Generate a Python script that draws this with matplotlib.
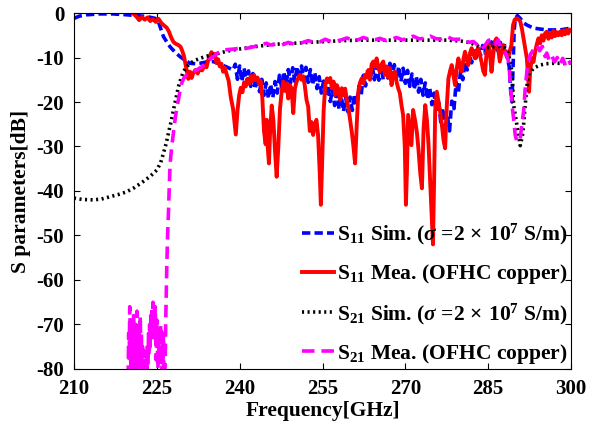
import matplotlib
matplotlib.use('Agg')
import matplotlib.pyplot as plt

plt.rcParams['font.family'] = ['Liberation Serif', 'DejaVu Serif']
plt.rcParams['font.weight'] = 'bold'
plt.rcParams['mathtext.fontset'] = 'custom'
plt.rcParams['mathtext.rm'] = 'Liberation Serif:bold'
plt.rcParams['mathtext.it'] = 'Liberation Serif:italic'
plt.rcParams['mathtext.bf'] = 'Liberation Serif:bold'
plt.rcParams['lines.scale_dashes'] = False
plt.rcParams['axes.unicode_minus'] = False

# S11 simulation (sigma = 2e7 S/m)
s11_sim_f = [210.0, 211.0, 212.3, 214.7, 217.0, 219.5, 221.5, 223.2, 224.7, 225.3,
             225.6, 226.2, 226.8, 227.4, 228.3, 229.2, 230.1, 231.0, 232.0, 232.8,
             234.0, 235.2, 236.4, 237.6, 238.8,
             239.2, 239.6, 240.0, 240.4, 240.8, 241.2, 241.6, 242.0, 242.4, 242.8,
             243.2, 243.6, 244.0, 244.4, 244.8, 245.2, 245.6, 246.0, 246.4, 246.8,
             247.2, 247.6, 248.0, 248.4, 248.8, 249.2, 249.6, 250.0, 250.4, 250.8,
             251.2, 251.6, 252.0, 252.4, 252.8, 253.2, 253.6, 254.0, 254.4, 254.8,
             255.2, 255.6, 256.0, 256.4, 256.8, 257.2, 257.6, 258.0, 258.4, 258.8,
             259.2, 259.6, 260.0, 260.4, 260.8, 261.2, 261.6, 262.0, 262.4, 262.8,
             263.2, 263.6, 264.0, 264.4, 264.8, 265.2, 265.6, 266.0, 266.4, 266.8,
             267.2, 267.6, 268.0, 268.4, 268.8, 269.2, 269.6, 270.0, 270.4, 270.8,
             271.2, 271.6, 272.0, 272.4, 272.8, 273.2, 273.6, 274.0, 274.4, 274.8,
             275.2, 275.6, 276.0, 276.4, 276.8, 277.2, 277.6, 278.0, 278.4, 278.8,
             279.2, 279.6, 280.0, 280.4, 280.8, 281.2, 281.6, 282.0, 282.4, 282.8,
             283.2, 283.6, 284.0, 284.4, 284.8, 285.2, 285.6, 286.0, 286.4, 286.8,
             287.2, 287.6, 288.0, 288.4,
             288.8, 289.1, 289.3, 289.5, 289.7, 289.9, 290.3, 290.8, 291.4, 292.0,
             293.2, 294.4, 295.6, 297.0, 298.0, 299.0, 300.0]
s11_sim_db = [-1.2, -0.7, -0.4, -0.2, -0.2, -0.4, -0.6, -0.8, -1.2, -2.0,
              -3.1, -5.3, -6.5, -7.6, -8.8, -9.8, -10.6, -11.3, -11.4, -11.3,
              -11.0, -10.9, -11.5, -12.1, -12.8,
              -11.5, -14.9, -11.9, -15.4, -12.4, -15.9, -13.0, -16.5, -13.6, -17.1,
              -14.2, -17.7, -14.9, -18.5, -15.7, -19.2, -16.0, -19.0, -15.4, -18.0,
              -14.0, -16.7, -13.2, -16.1, -12.7, -15.7, -12.3, -15.4, -12.0, -15.1,
              -11.9, -15.2, -12.2, -15.6, -12.7, -16.2, -13.3, -17.0, -14.3, -18.0,
              -15.3, -18.9, -16.2, -19.9, -17.2, -20.8, -18.0, -21.6, -18.7, -22.1,
              -19.0, -22.2, -18.9, -21.9, -18.2, -20.6, -16.4, -18.4, -14.0, -16.4,
              -12.6, -15.4, -11.9, -15.0, -11.8, -15.1, -12.0, -15.0, -11.6, -14.6,
              -11.3, -14.6, -11.6, -15.0, -12.0, -15.4, -12.4, -15.8, -12.9, -16.5,
              -13.7, -17.2, -14.3, -17.8, -14.9, -18.5, -15.7, -19.4, -16.7, -20.6,
              -18.0, -22.4, -19.5, -24.5, -21.4, -26.4, -23.0, -26.5, -19.8, -21.5,
              -15.6, -17.8, -13.0, -15.0, -10.9, -12.8, -9.4, -11.2, -8.5, -10.1,
              -7.8, -9.6, -7.3, -9.0, -6.8, -8.6, -6.5, -8.5, -6.5, -8.6,
              -6.6, -8.9, -7.3, -9.8,
              -12.0, -18.0, -20.0, -12.0, -4.0, -1.2, -0.6, -1.2, -2.2, -2.7,
              -3.4, -3.6, -3.8, -3.8, -3.8, -3.6, -3.4]

# S11 measured (OFHC copper)
s11_mea_f = [220.7, 221.3, 221.8, 222.3, 222.8, 223.3, 223.8, 224.3, 224.8, 225.3,
             225.8, 226.3, 226.8, 227.2, 227.6, 228.0, 228.4, 228.9, 229.3, 229.6,
             229.9, 230.2, 230.5, 230.7, 231.0, 231.3, 231.6, 232.0, 232.4, 232.8,
             233.2, 233.6, 234.0, 234.3, 234.6, 234.9, 235.2, 235.5, 235.8, 236.1,
             236.4, 236.7, 237.0, 237.3, 237.6, 238.0, 238.4, 238.8, 239.1, 239.3,
             239.6, 239.9, 240.2, 240.5, 240.8, 241.1, 241.4, 241.7, 242.0, 242.3,
             242.6, 242.9, 243.2, 243.5, 243.8, 244.1, 244.4, 244.7, 244.9, 245.1,
             245.3, 245.5, 245.8, 246.1, 246.4, 246.7, 247.0, 247.3, 247.6, 247.9,
             248.2, 248.5, 248.8, 249.1, 249.4, 249.7, 250.0, 250.3, 250.6, 250.9,
             251.2, 251.5, 251.8, 252.1, 252.4, 252.7, 253.0, 253.3, 253.6, 253.9,
             254.2, 254.5, 254.7, 254.9, 255.2, 255.5, 255.8, 256.1, 256.4, 256.7,
             257.0, 257.3, 257.6, 257.9, 258.2, 258.5, 258.8, 259.1, 259.4, 259.7,
             260.0, 260.3, 260.6, 260.9, 261.2, 261.5, 261.8, 262.1, 262.4, 262.7,
             263.0, 263.3, 263.6, 263.9, 264.2, 264.5, 264.8, 265.1, 265.4, 265.7,
             266.0, 266.3, 266.6, 266.9, 267.2, 267.5, 267.8, 268.1, 268.4, 268.7,
             269.0, 269.3, 269.6, 269.9, 270.1, 270.3, 270.5, 270.8, 271.1, 271.4,
             271.8, 272.1, 272.4, 272.7, 273.0, 273.3, 273.6, 273.9, 274.2, 274.5,
             274.8, 275.0, 275.2, 275.4, 275.7, 276.0, 276.3, 276.6, 276.9, 277.2,
             277.5, 277.8, 278.1, 278.4, 278.7, 279.0, 279.3, 279.6, 279.9, 280.2,
             280.5, 280.8, 281.1, 281.4, 281.7, 282.0, 282.3, 282.6, 282.9, 283.2,
             283.5, 283.8, 284.1, 284.4, 284.7, 285.0, 285.3, 285.6, 285.9, 286.2,
             286.5, 286.8, 287.1, 287.4, 287.7, 288.0, 288.3, 288.6, 288.9, 289.2,
             289.5, 289.8, 290.1, 290.4, 290.8, 291.1, 291.4, 291.7, 292.0, 292.2,
             292.4, 292.6, 292.9, 293.2, 293.5, 293.8, 294.1, 294.4, 294.7, 295.0,
             295.3, 295.6, 295.9, 296.2, 296.5, 296.8, 297.1, 297.4, 297.7, 298.0,
             298.3, 298.6, 298.9, 299.2, 299.5, 299.8]
s11_mea_db = [-0.1, -0.8, -1.6, -0.9, -1.5, -1.0, -1.8, -1.4, -2.0, -1.3,
              -2.2, -2.8, -3.3, -4.2, -5.5, -6.5, -6.9, -7.2, -7.6, -8.5,
              -9.6, -11.5, -13.5, -14.8, -13.2, -14.6, -13.5, -12.8, -13.6, -12.4,
              -12.9, -11.8, -12.2, -10.6, -9.6, -8.8, -9.8, -9.2, -11.2, -10.4,
              -12.0, -11.4, -13.2, -12.3, -13.6, -15.2, -19.0, -21.5, -25.0, -27.3,
              -22.0, -18.5, -16.8, -17.8, -15.6, -16.5, -14.8, -15.9, -14.2, -15.3,
              -13.9, -15.1, -14.5, -16.0, -15.2, -19.0, -26.5, -29.5, -24.0, -30.5,
              -33.8, -27.0, -20.8, -24.0, -31.0, -36.8, -30.0, -21.5, -17.8, -15.4,
              -17.5, -15.8, -19.2, -16.2, -17.0, -22.5, -17.0, -15.4, -14.6, -13.9,
              -15.0, -14.2, -16.4, -19.5, -21.0, -26.5, -24.5, -27.4, -25.0, -24.0,
              -27.5, -36.0, -43.1, -35.0, -22.0, -16.2, -14.7, -15.5, -14.6, -16.9,
              -15.4, -18.4, -16.2, -17.2, -19.5, -16.9, -18.5, -17.0, -19.5, -21.4,
              -24.0, -26.7, -30.0, -33.8, -25.0, -17.5, -15.6, -14.7, -15.8, -13.9,
              -14.5, -12.8, -15.0, -11.5, -10.9, -12.0, -10.2, -12.5, -13.2, -11.5,
              -10.9, -13.9, -12.0, -14.5, -12.4, -16.2, -13.5, -13.2, -15.4, -16.9,
              -18.0, -20.7, -23.0, -30.0, -43.1, -35.0, -22.9, -26.3, -29.7, -21.8,
              -24.4, -27.0, -31.0, -36.0, -39.4, -26.0, -20.7, -24.0, -29.7, -38.0,
              -46.0, -52.0, -38.0, -22.0, -17.7, -20.0, -22.2, -25.0, -28.5, -30.4,
              -21.0, -14.7, -13.0, -11.7, -14.0, -16.2, -12.5, -10.2, -12.0, -13.2,
              -10.5, -8.7, -10.5, -11.7, -9.0, -7.9, -9.0, -10.2, -8.4, -7.9,
              -9.5, -11.0, -13.0, -13.9, -9.0, -6.4, -9.0, -13.2, -9.5, -6.4,
              -5.7, -8.0, -10.9, -9.0, -7.2, -8.5, -9.6, -10.2, -8.6, -7.2,
              -2.7, -1.5, -1.2, -1.3, -1.9, -3.5, -5.7, -8.0, -10.2, -14.0,
              -17.7, -13.0, -10.2, -11.0, -8.7, -7.0, -5.7, -6.8, -5.0, -6.2,
              -4.6, -4.2, -5.8, -4.5, -5.5, -4.0, -5.2, -4.3, -5.0, -4.2,
              -5.0, -3.9, -4.8, -3.8, -4.6, -3.8]

# S21 simulation (sigma = 2e7 S/m)
s21_sim_f = [210.0, 211.5, 213.5, 215.0, 216.5, 218.0, 219.5, 221.0, 222.5, 223.8,
             225.0, 225.7, 226.2, 226.7, 227.1, 227.6, 228.0, 228.5, 228.9, 229.4,
             229.8, 230.4, 231.0, 232.0, 232.8, 234.0, 235.2, 237.0, 238.8, 240.5,
             242.5, 244.5, 246.7, 249.7, 252.5, 255.8, 259.0, 261.8, 265.0, 268.0,
             271.4, 274.5, 277.5, 280.0, 281.5, 283.0, 283.5, 284.5, 285.9, 287.0,
             288.0, 288.6, 289.0, 289.3, 289.6, 290.2, 290.8, 291.2, 291.4, 291.7,
             292.0, 292.3, 293.2, 294.4, 295.5, 296.8, 298.0, 299.0, 300.0]
s21_sim_db = [-41.6, -41.9, -42.0, -41.8, -41.3, -40.8, -40.2, -39.2, -37.9, -36.7,
              -35.3, -33.6, -31.5, -29.3, -27.0, -24.3, -21.8, -19.0, -16.6, -14.6,
              -13.2, -12.1, -11.3, -10.6, -10.2, -9.7, -9.4, -8.8, -8.3, -8.0,
              -7.6, -7.3, -7.0, -6.8, -6.6, -6.4, -6.2, -6.1, -6.1, -6.1,
              -6.1, -6.1, -6.1, -6.3, -6.6, -7.3, -7.9, -7.8, -7.6, -7.5,
              -7.9, -9.0, -10.9, -13.2, -20.7, -25.2, -29.8, -27.5, -25.2, -20.7,
              -16.5, -13.9, -12.4, -11.7, -11.4, -11.3, -11.3, -11.3, -11.2]

# S21 measured (OFHC copper)
s21_mea_f = [219.8, 219.9, 220.0, 220.1, 220.2, 220.3, 220.4, 220.5, 220.6, 220.7,
             220.8, 220.9, 221.0, 221.1, 221.2, 221.3, 221.4, 221.5, 221.6, 221.7,
             221.8, 221.9, 222.0, 222.1, 222.2, 222.3, 222.4, 222.5, 222.6, 222.7,
             222.8, 222.9, 223.0, 223.1, 223.2, 223.3, 223.4, 223.5, 223.6, 223.7,
             223.8, 223.9, 224.0, 224.1, 224.2, 224.3, 224.4, 224.5, 224.6, 224.7,
             224.8, 224.9, 225.0, 225.1, 225.2, 225.3, 225.4, 225.5, 225.6, 225.7,
             225.8, 225.9, 226.0, 226.1, 226.2, 226.3, 226.5, 226.6, 226.8, 226.95,
             227.1, 227.25, 227.4, 227.7, 228.0, 228.4, 228.9, 229.2, 229.5, 229.9,
             230.4, 231.0, 232.2, 233.0, 234.0, 234.6, 235.2, 236.0, 237.0, 238.0,
             239.0, 240.0, 241.0, 242.5, 243.5, 244.9, 245.5, 246.5, 247.5, 248.8,
             249.8, 251.0, 252.4, 253.4, 254.5, 255.5, 256.5, 257.5, 258.5, 259.4,
             260.5, 261.5, 262.4, 263.4, 264.5, 265.4, 266.5, 267.5, 268.4, 269.4,
             270.5, 271.4, 272.5, 273.5, 274.5, 275.6, 276.6, 277.5, 278.6, 279.5,
             280.5, 281.5, 282.3, 282.9, 283.6, 284.3, 285.0, 285.6, 286.3, 286.8,
             287.3, 287.9, 288.3, 288.7, 289.0, 289.3, 289.6, 289.9, 290.2, 290.5,
             290.8, 291.1, 291.4, 291.7, 292.0, 292.3, 292.6, 293.2, 293.8, 294.3,
             294.8, 295.3, 295.6, 296.0, 296.5, 297.0, 297.5, 298.0, 298.5, 299.0,
             299.5, 300.0]
s21_mea_db = [-82, -72, -78, -66, -74, -80, -69, -77, -71, -82,
              -68, -75, -79, -70, -76, -81, -67, -73, -78, -70,
              -80, -74, -68, -77, -72, -81, -75, -79, -82, -76,
              -80, -78, -82, -77, -80, -74, -79, -72, -77, -70,
              -75, -68, -73, -66, -71, -65, -70, -67, -74, -66,
              -72, -78, -69, -75, -80, -71, -77, -73, -79, -70,
              -76, -81, -74, -79, -72, -82, -79.5, -70, -57, -50,
              -45, -39, -34, -30, -27, -23, -19.6, -17.5, -15.8, -14.6,
              -13.9, -13.4, -12.8, -12.2, -11.3, -10.4, -9.8, -9.0, -8.3, -8.2,
              -8.1, -7.9, -8.0, -7.6, -7.2, -6.8, -7.2, -7.0, -7.3, -6.6,
              -7.0, -6.8, -6.2, -6.6, -6.5, -5.9, -6.4, -6.3, -6.0, -5.6,
              -6.1, -6.0, -5.5, -5.9, -6.0, -5.7, -6.2, -5.9, -5.5, -6.0,
              -5.8, -5.2, -5.8, -5.7, -5.2, -5.8, -5.8, -5.3, -5.9, -5.9,
              -5.9, -6.6, -6.4, -7.0, -8.2, -7.5, -6.2, -5.9, -7.0, -6.0,
              -8.0, -8.5, -9.4, -11.0, -15.4, -20.7, -23.7, -27.5, -28.8, -29.0,
              -28.2, -25.0, -22.2, -17.0, -13.2, -11.0, -9.4, -8.2, -7.2, -8.5,
              -7.5, -9.8, -9.0, -10.5, -9.5, -11.0, -10.0, -11.5, -10.2, -11.8,
              -10.6, -11.5]

labels = [r'S$_{11}$ Sim. ($\sigma$ =2$\,\times\,$10$^{7}$ S/m)',
          r'S$_{11}$ Mea. (OFHC copper)',
          r'S$_{21}$ Sim. ($\sigma$ =2$\,\times\,$10$^{7}$ S/m)',
          r'S$_{21}$ Mea. (OFHC copper)']

fig = plt.figure(figsize=(6.03, 4.25), dpi=100)
ax = fig.add_axes([0.1227, 0.1318, 0.8243, 0.8376])

ax.plot(s11_sim_f, s11_sim_db, color='#0000ff', lw=2.6, dashes=(6, 3), label=labels[0])
ax.plot(s11_mea_f, s11_mea_db, color='#ff0000', lw=2.8, label=labels[1])
ax.plot(s21_sim_f, s21_sim_db, color='black', lw=2.6, dashes=(1.5, 2.5), label=labels[2])
ax.plot(s21_mea_f, s21_mea_db, color='#ff00ff', lw=2.6, dashes=(9, 5), label=labels[3])

ax.set_xlim(210, 300)
ax.set_ylim(-80, 0)
ax.set_xticks([210, 225, 240, 255, 270, 285, 300])
ax.set_yticks([0, -10, -20, -30, -40, -50, -60, -70, -80])
ax.tick_params(direction='in', top=True, right=True, length=4, width=0.8,
               labelsize=15, pad=7)
for lab in ax.get_xticklabels() + ax.get_yticklabels():
    lab.set_fontweight('bold')
for sp in ax.spines.values():
    sp.set_linewidth(0.8)

ax.set_xlabel('Frequency[GHz]', fontsize=15.5, fontweight='bold', labelpad=2)
ax.set_ylabel('S parameters[dB]', fontsize=15.5, fontweight='bold', labelpad=4)

ax.legend(loc='lower right', frameon=False, handlelength=1.5,
          handletextpad=0.15, labelspacing=0.7, borderaxespad=0.05, borderpad=0.1,
          prop={'weight': 'bold', 'size': 15.5})

fig.savefig('out.png', dpi=100)
